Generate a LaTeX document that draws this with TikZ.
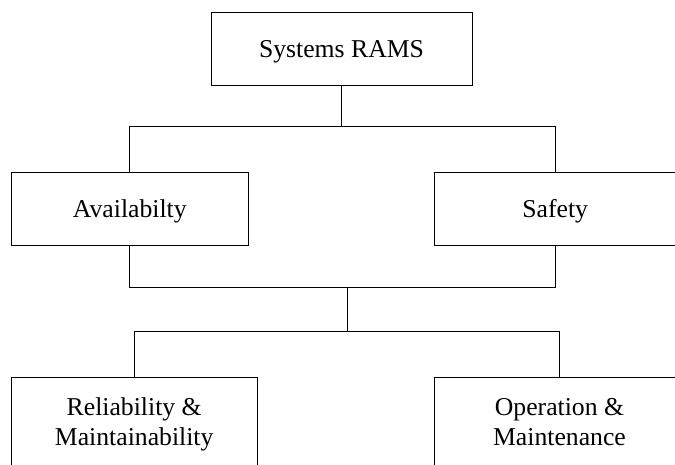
\documentclass[tikz,border=0pt]{standalone}
\usepackage{fontspec}
\setmainfont{Liberation Serif}
\newcommand{\upstrut}{\rule{0pt}{18.5pt}}
\newcommand{\downstrut}{\rule[-6.5pt]{0pt}{6.5pt}}
\begin{document}
\begin{tikzpicture}[x=1pt, y=-1pt, line width=1pt,
    box/.style={draw, inner sep=0pt, minimum height=73pt, align=center,
        font=\fontsize{25.7}{30}\selectfont},
    onebox/.style={box, text height=18.5pt, text depth=1.5pt}]
    \useasboundingbox (0,0) rectangle (675,465);
    \clip (0,0) rectangle (675,465);

    % Boxes
    \node[onebox, minimum width=261pt] (rams) at (341.5,49.2) {Systems RAMS};
    \node[onebox, minimum width=237pt] (avail) at (129.8,208.6) {Availabilty};
    \node[onebox, minimum width=241pt] (safety) at (555.2,208.6) {Safety};
    \node[box, minimum width=245.7pt, minimum height=94pt] (relmain) at (134.2,424) {\upstrut Reliability \&\\Maintainability\downstrut};
    \node[box, minimum width=251pt, minimum height=94pt] (opmain) at (559.5,424) {\upstrut Operation \&\\Maintenance\downstrut};

    \coordinate (busTop) at (0,126.7); \coordinate (busMid) at (0,287.7);
    \coordinate (busLow) at (0,331); \coordinate (join) at (347.7,287.7);

    % Tree lines
    \draw (rams.south) -- (rams.south |- busTop);
    \draw (avail.north) |- (busTop -| safety.north) -- (safety.north);
    \draw (avail.south) |- (busMid -| safety.south) -- (safety.south);
    \draw (join) -- (join |- busLow);
    \draw (relmain.north) |- (busLow -| opmain.north) -- (opmain.north);
\end{tikzpicture}
\end{document}
